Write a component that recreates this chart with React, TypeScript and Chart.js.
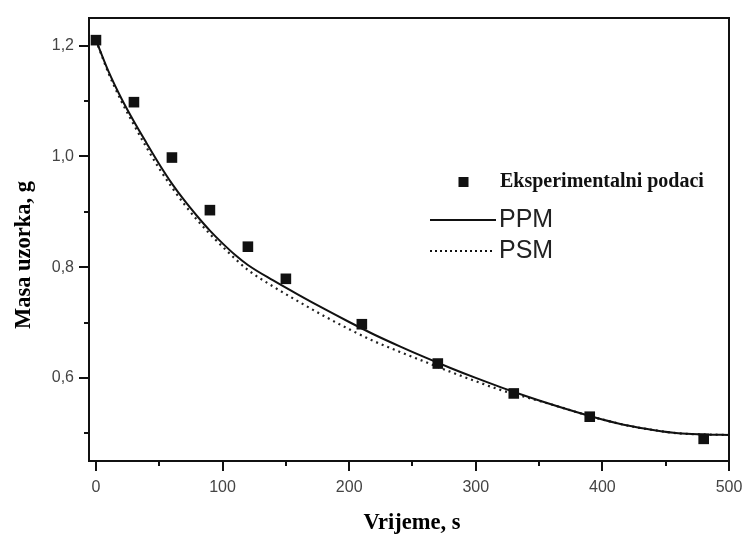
import React, { useEffect, useRef } from 'react';
import { Chart, registerables } from 'chart.js';

Chart.register(...registerables);

// Experimental data
const EXP_T = [0, 30, 60, 90, 120, 150, 210, 270, 330, 390, 480];
const EXP_M = [1.21, 1.098, 0.998, 0.903, 0.837, 0.779, 0.697, 0.626, 0.572, 0.53, 0.49];

// Model curves
const MODEL_T = [0, 10, 20, 30, 40, 50, 60, 70, 80, 90, 100, 110, 120, 140, 160, 180, 200, 220, 240, 260, 280, 300, 320, 340, 360, 380, 400, 420, 440, 460, 480, 500];
const PPM_M = [1.21, 1.153, 1.105, 1.063, 1.024, 0.986, 0.951, 0.92, 0.892, 0.866, 0.843, 0.822, 0.804, 0.776, 0.75, 0.725, 0.701, 0.678, 0.657, 0.637, 0.618, 0.6, 0.583, 0.567, 0.552, 0.538, 0.525, 0.514, 0.506, 0.5, 0.498, 0.497];
const PSM_M = [1.21, 1.15, 1.1, 1.057, 1.016, 0.978, 0.944, 0.913, 0.885, 0.86, 0.837, 0.815, 0.795, 0.765, 0.738, 0.712, 0.688, 0.666, 0.647, 0.629, 0.611, 0.594, 0.578, 0.565, 0.552, 0.538, 0.525, 0.514, 0.506, 0.5, 0.498, 0.497];

// Axes
const X_TICKS = [0, 50, 100, 150, 200, 250, 300, 350, 400, 450, 500];
const X_LABELLED = [0, 100, 200, 300, 400, 500];
const Y_TICKS = [0.5, 0.6, 0.7, 0.8, 0.9, 1.0, 1.1, 1.2];
const Y_LABELLED = [0.6, 0.8, 1.0, 1.2];
const X_MIN = -5.5;
const X_MAX = 500;
const Y_MIN = 0.45;
const Y_MAX = 1.25;

const X_TITLE = 'Vrijeme, s';
const Y_TITLE = 'Masa uzorka, g';
const SERIES_LABELS = ['Eksperimentalni podaci', 'PPM', 'PSM'];

const near = (v: number, arr: number[]) => arr.some((a) => Math.abs(a - v) < 1e-6);

const zeroPad = (s: any) => {
  s.paddingLeft = 0;
  s.paddingRight = 0;
  s.paddingTop = 0;
  s.paddingBottom = 0;
};

const decorPlugin = {
  id: 'decor',
  afterDatasetsDraw(chart: any) {
    const { ctx, chartArea, scales } = chart;
    const { left, right, top, bottom } = chartArea;
    const xs = scales.x;
    const ys = scales.y;
    ctx.save();
    // frame
    ctx.strokeStyle = '#111';
    ctx.lineWidth = 2;
    ctx.strokeRect(left, top, right - left, bottom - top);
    // ticks
    ctx.beginPath();
    X_TICKS.forEach((v) => {
      const px = Math.round(xs.getPixelForValue(v));
      const len = near(v, X_LABELLED) ? 10 : 5;
      ctx.moveTo(px, bottom);
      ctx.lineTo(px, bottom + len);
    });
    Y_TICKS.forEach((v) => {
      const py = Math.round(ys.getPixelForValue(v));
      const len = near(v, Y_LABELLED) ? 10 : 5;
      ctx.moveTo(left, py);
      ctx.lineTo(left - len, py);
    });
    ctx.stroke();

    // legend
    const ds = chart.data.datasets;
    ctx.fillStyle = '#111';
    const sq = 10;
    ctx.fillRect(463.5 - sq / 2, 182 - sq / 2, sq, sq);
    ctx.font = 'bold 20px "Liberation Serif", "Times New Roman", serif';
    ctx.textAlign = 'left';
    ctx.textBaseline = 'middle';
    ctx.fillText(ds[0].label, 500, 182);

    ctx.strokeStyle = '#111';
    ctx.lineWidth = 2;
    ctx.setLineDash([]);
    ctx.beginPath();
    ctx.moveTo(430, 220);
    ctx.lineTo(496, 220);
    ctx.stroke();
    ctx.setLineDash([2, 3]);
    ctx.beginPath();
    ctx.moveTo(430, 251);
    ctx.lineTo(492, 251);
    ctx.stroke();
    ctx.setLineDash([]);
    ctx.fillStyle = '#222';
    ctx.font = '25px "Liberation Sans", Arial, sans-serif';
    ctx.fillText(ds[1].label, 499, 220);
    ctx.fillText(ds[2].label, 499, 251);

    // axis titles
    ctx.fillStyle = '#000';
    ctx.font = 'bold 22.5px "Liberation Serif", "Times New Roman", serif';
    ctx.textAlign = 'center';
    ctx.textBaseline = 'middle';
    ctx.fillText(X_TITLE, 412, 523);
    ctx.translate(24, 255);
    ctx.rotate(-Math.PI / 2);
    ctx.fillText(Y_TITLE, 0, 0);
    ctx.restore();
  },
};

export default function App() {
  const ref = useRef<HTMLCanvasElement | null>(null);

  useEffect(() => {
    if (!ref.current) return;
    const chart = new Chart(ref.current, {
      type: 'scatter',
      data: {
        datasets: [
          {
            label: SERIES_LABELS[0],
            data: EXP_T.map((t, i) => ({ x: t, y: EXP_M[i] })),
            showLine: false,
            pointStyle: 'rect',
            pointRadius: 7.5,
            backgroundColor: '#111',
            borderColor: '#111',
            borderWidth: 0,
            order: 0,
          },
          {
            label: SERIES_LABELS[1],
            data: MODEL_T.map((t, i) => ({ x: t, y: PPM_M[i] })),
            showLine: true,
            pointRadius: 0,
            borderColor: '#111',
            borderWidth: 2,
            cubicInterpolationMode: 'monotone',
            order: 1,
          },
          {
            label: SERIES_LABELS[2],
            data: MODEL_T.map((t, i) => ({ x: t, y: PSM_M[i] })),
            showLine: true,
            pointRadius: 0,
            borderColor: '#222',
            borderWidth: 2.2,
            borderDash: [2, 4],
            cubicInterpolationMode: 'monotone',
            order: 2,
          },
        ],
      },
      options: {
        responsive: false,
        animation: false,
        devicePixelRatio: 1,
        layout: { padding: { top: 18, right: 16, left: 0, bottom: 0 } },
        plugins: { legend: { display: false }, tooltip: { enabled: false } },
        scales: {
          x: {
            type: 'linear',
            min: X_MIN,
            max: X_MAX,
            afterBuildTicks: (s: any) => {
              s.ticks = X_TICKS.map((v) => ({ value: v }));
            },
            afterFit: (s: any) => {
              s.height = 77;
              zeroPad(s);
            },
            grid: { display: false, drawTicks: false },
            border: { display: false },
            ticks: {
              autoSkip: false,
              maxRotation: 0,
              padding: 17,
              color: '#444',
              font: { family: '"Liberation Sans", Arial, sans-serif', size: 16 },
              callback: (v: any) => (near(Number(v), X_LABELLED) ? String(v) : ''),
            },
          },
          y: {
            type: 'linear',
            min: Y_MIN,
            max: Y_MAX,
            afterBuildTicks: (s: any) => {
              s.ticks = Y_TICKS.map((v) => ({ value: v }));
            },
            afterFit: (s: any) => {
              s.width = 89;
              zeroPad(s);
            },
            grid: { display: false, drawTicks: false },
            border: { display: false },
            ticks: {
              autoSkip: false,
              padding: 15,
              color: '#444',
              font: { family: '"Liberation Sans", Arial, sans-serif', size: 16 },
              callback: (v: any) => (near(Number(v), Y_LABELLED) ? Number(v).toFixed(1).replace('.', ',') : ''),
            },
          },
        },
      },
      plugins: [decorPlugin],
    });
    return () => chart.destroy();
  }, []);

  return (
    <div style={{ position: 'fixed', left: 0, top: 0, width: 745, height: 538, background: '#fff' }}>
      <canvas ref={ref} width={745} height={538} style={{ display: 'block', width: 745, height: 538 }} />
    </div>
  );
}
